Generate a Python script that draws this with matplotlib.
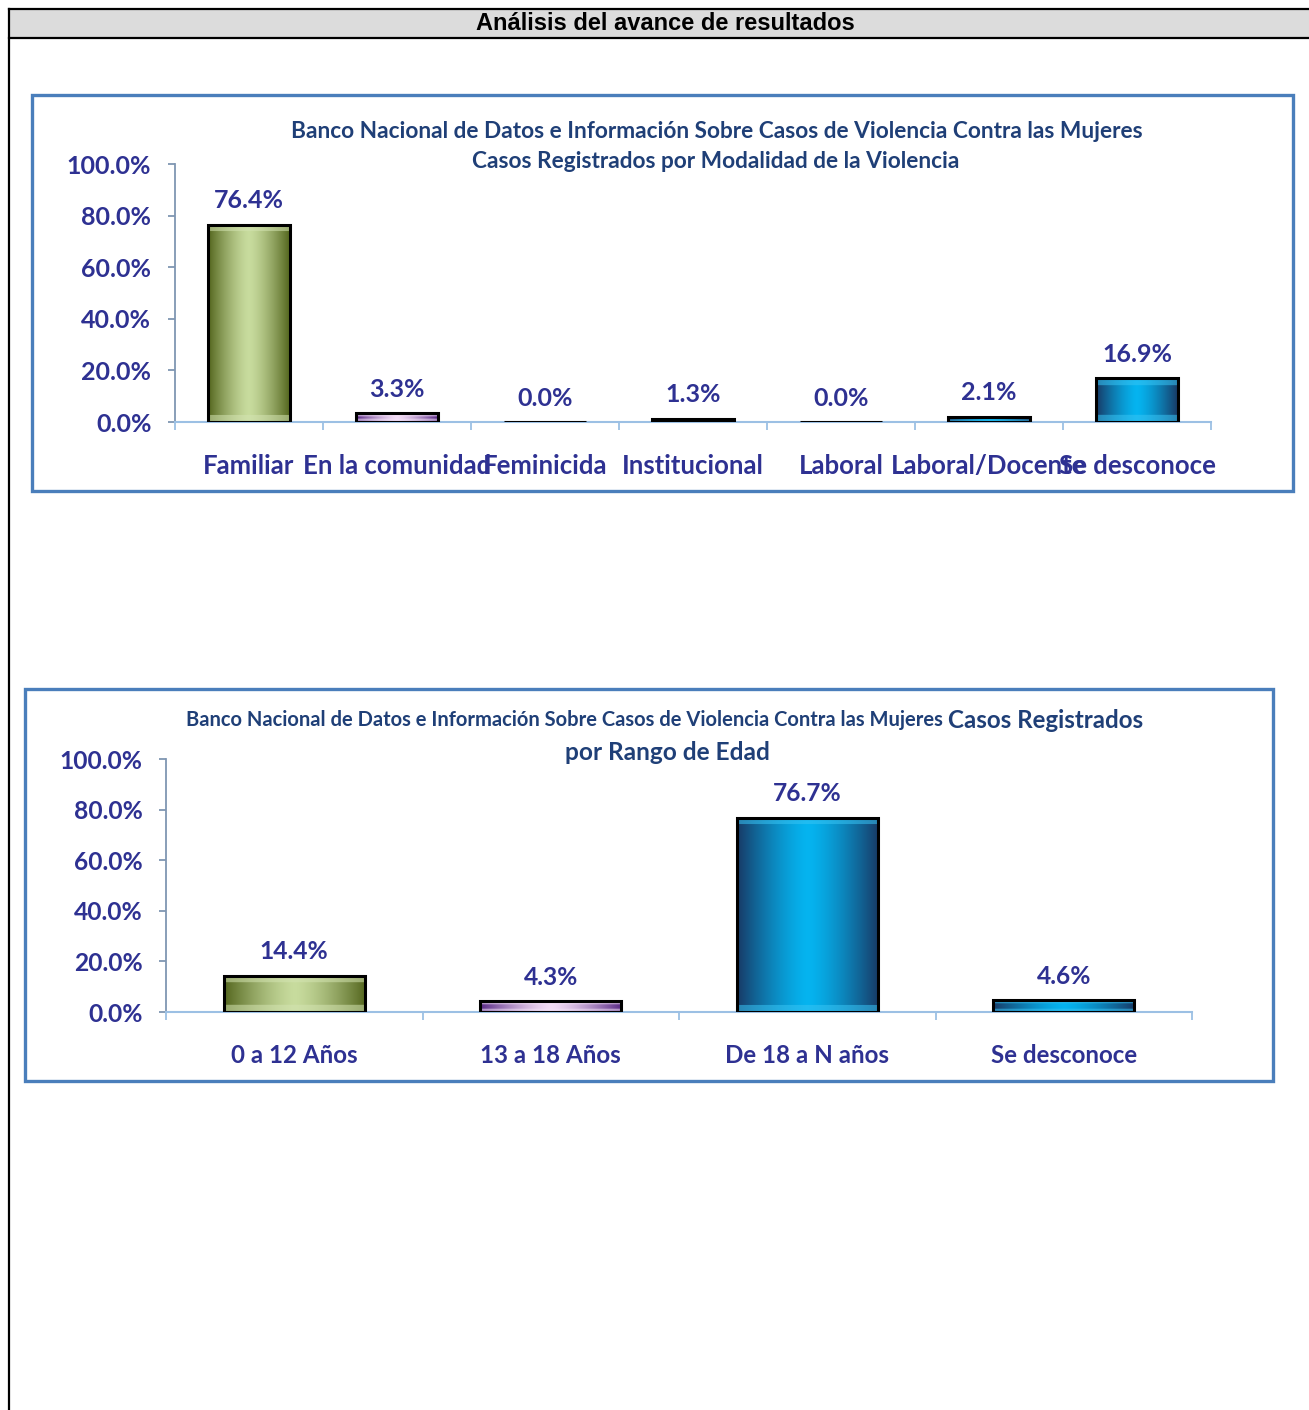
import numpy as np
import matplotlib
matplotlib.use("Agg")
import matplotlib.pyplot as plt
from matplotlib.patches import Rectangle
from matplotlib.lines import Line2D
from matplotlib.colors import to_rgb

# Data
modalidad = ['Familiar', 'En la comunidad', 'Feminicida', 'Institucional',
             'Laboral', 'Laboral/Docente', 'Se desconoce']
modalidad_pct = [76.4, 3.3, 0.0, 1.3, 0.0, 2.1, 16.9]
modalidad_col = ['green', 'purple', 'gray', 'blue', 'gray', 'blue', 'blue']

edad = ['0 a 12 Años', '13 a 18 Años', 'De 18 a N años', 'Se desconoce']
edad_pct = [14.4, 4.3, 76.7, 4.6]
edad_col = ['green', 'purple', 'blue', 'blue']

yticks = [0, 20, 40, 60, 80, 100]

W, H = 1309, 1410
FONT = ['Lato', 'DejaVu Sans']
LABEL_COL = '#2e3192'
TITLE_COL = '#1f3f77'
BOX_COL = '#4a7ebb'

# dark edge / light centre of each gradient
shades = {
    'green': ('#55671f', '#c8dc9e'),
    'purple': ('#5a2a86', '#f3dcf6'),
    'blue': ('#183a66', '#05b4f0'),
    'gray': ('#555555', '#999999'),
}

fig = plt.figure(figsize=(W / 100, H / 100), dpi=100)


def frac(x0, y0, x1, y1):
    # pixel box (top-left origin) -> figure fraction rect
    return [x0 / W, 1 - y1 / H, (x1 - x0) / W, (y1 - y0) / H]


def shade_bar(ax, patch, kind):
    h = patch.get_height()
    if h <= 0:
        return
    x0 = patch.get_x()
    x1 = x0 + patch.get_width()
    dark, light = np.array(to_rgb(shades[kind][0])), np.array(to_rgb(shades[kind][1]))
    p0 = ax.transData.transform((x0, 0))
    p1 = ax.transData.transform((x1, h))
    wpx = int(abs(p1[0] - p0[0])) + 1
    hpx = max(int(abs(p1[1] - p0[1])), 2)
    t = np.linspace(0, 1, wpx)
    f = 1 - np.abs(2 * t - 1) ** 1.4
    row = dark + (light - dark) * f[:, None]
    img = np.repeat(row[None, :, :], hpx, axis=0)
    # glossy bevel near top and bottom
    band = min(6, max(1, hpx // 4))
    hi = np.clip(light * 0.8 + 0.2, 0, 1)
    for r in list(range(1, 1 + band)) + list(range(hpx - 1 - band, hpx - 1)):
        if 0 <= r < hpx:
            img[r] = img[r] * 0.45 + hi * 0.55
    ax.imshow(img, extent=(x0, x1, 0, h), aspect='auto', zorder=2,
              interpolation='bilinear')


def bar_chart(rect, cats, vals, kinds, fs_cat, fs_tick, fs_val):
    ax = fig.add_axes(rect)
    x = np.arange(len(cats))
    bars = ax.bar(x, vals, width=0.55, facecolor='none', edgecolor='black',
                  linewidth=2.2, zorder=3)
    ax.set_xlim(-0.5, len(cats) - 0.5)
    ax.set_ylim(0, 100)
    for b, k in zip(bars, kinds):
        shade_bar(ax, b, k)
    ax.set_xlim(-0.5, len(cats) - 0.5)
    ax.set_ylim(0, 100)
    for b, v in zip(bars, vals):
        ax.annotate(f'{v:.1f}%', (b.get_x() + b.get_width() / 2, v),
                    xytext=(0, 9), textcoords='offset points', ha='center',
                    va='bottom', fontsize=fs_val, fontweight='bold',
                    color=LABEL_COL, family=FONT)
    for s in ['top', 'right']:
        ax.spines[s].set_visible(False)
    ax.spines['left'].set_color('#7f96b2')
    ax.spines['bottom'].set_color('#9cc0e4')
    ax.spines['left'].set_linewidth(1.3)
    ax.spines['bottom'].set_linewidth(1.5)
    ax.set_yticks(yticks)
    ax.set_yticklabels([f'{v:.1f}%' for v in yticks])
    ax.tick_params(axis='y', length=5, width=1.3, color='#7f96b2', pad=12,
                   labelsize=fs_tick, labelcolor=LABEL_COL)
    ax.set_xticks(np.arange(len(cats) + 1) - 0.5)
    ax.set_xticklabels([])
    ax.tick_params(axis='x', which='major', length=6, width=1.3, color='#9cc0e4')
    ax.set_xticks(x, minor=True)
    ax.set_xticklabels(cats, minor=True)
    ax.tick_params(axis='x', which='minor', length=0, pad=23,
                   labelsize=fs_cat, labelcolor=LABEL_COL)
    for lab in ax.get_yticklabels() + ax.get_xticklabels(minor=True):
        lab.set_family(FONT)
        lab.set_fontweight('bold')
    ax.patch.set_alpha(0)
    return ax


# page frame
fig.add_artist(Rectangle((9 / W, 1 - 38 / H), 1 - 9 / W, 29 / H,
                         transform=fig.transFigure, facecolor='#dcdcdc',
                         edgecolor='none'))
for xs, ys in [([9, W], [9, 9]), ([9, W], [38, 38]), ([9, 9], [9, H])]:
    fig.add_artist(Line2D([v / W for v in xs], [1 - v / H for v in ys],
                          transform=fig.transFigure, color='black', lw=1.6))
fig.text(665 / W, 1 - 23 / H, 'Análisis del avance de resultados',
         ha='center', va='center', fontsize=17, fontweight='bold',
         family=['Liberation Sans', 'DejaVu Sans'])

# chart boxes
for x0, y0, x1, y1 in [(32, 95, 1293, 491), (25, 689, 1273, 1081)]:
    fig.add_artist(Rectangle((x0 / W, 1 - y1 / H), (x1 - x0) / W, (y1 - y0) / H,
                             transform=fig.transFigure, facecolor='none',
                             edgecolor=BOX_COL, lw=2.4))

# chart 1
bar_chart(frac(175, 164, 1211, 422), modalidad, modalidad_pct, modalidad_col, 18.5, 18, 18)
fig.text(717 / W, 1 - 132 / H,
         'Banco Nacional de Datos e Información Sobre Casos de Violencia Contra las Mujeres',
         ha='center', va='center', fontsize=16.3, fontweight='bold',
         color=TITLE_COL, family=FONT)
fig.text(716 / W, 1 - 162 / H, 'Casos Registrados por Modalidad de la Violencia',
         ha='center', va='center', fontsize=16.3, fontweight='bold',
         color=TITLE_COL, family=FONT)

# chart 2
bar_chart(frac(166, 759, 1192, 1012), edad, edad_pct, edad_col, 17.4, 17.7, 17.7)
fig.canvas.draw()
r = fig.canvas.get_renderer()
t1 = fig.text(186 / W, 1 - 720 / H,
              'Banco Nacional de Datos e Información Sobre Casos de Violencia Contra las Mujeres',
              ha='left', va='center', fontsize=14.5, fontweight='bold',
              color=TITLE_COL, family=FONT)
bb = t1.get_window_extent(renderer=r)
fig.text(bb.x1 / W + 5 / W, 1 - 720 / H, 'Casos Registrados',
         ha='left', va='center', fontsize=17.4, fontweight='bold',
         color=TITLE_COL, family=FONT)
fig.text(667 / W, 1 - 752 / H, 'por Rango de Edad',
         ha='center', va='center', fontsize=17.6, fontweight='bold',
         color=TITLE_COL, family=FONT)

fig.savefig('out.png', dpi=100)
